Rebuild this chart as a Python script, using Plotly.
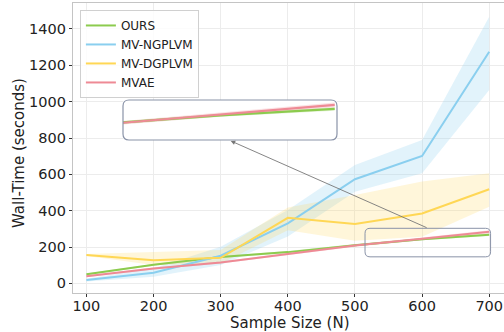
import plotly.graph_objects as go

# ---- data ----
sample_sizes = [100, 200, 300, 400, 500, 600, 700]

ours_mean = [50, 102, 145, 172, 210, 243, 268]
ours_lo = [45, 97, 140, 166, 204, 237, 261]
ours_hi = [55, 107, 150, 178, 216, 249, 275]

mvae_mean = [39, 82, 115, 160, 208, 245, 284]
mvae_lo = [33, 76, 109, 153, 201, 237, 275]
mvae_hi = [45, 88, 121, 167, 215, 253, 293]

ngplvm_mean = [18, 58, 152, 330, 573, 701, 1275]
ngplvm_lo = [10, 37, 101, 258, 504, 606, 1064]
ngplvm_hi = [26, 83, 202, 404, 651, 789, 1468]

dgplvm_mean = [156, 127, 141, 361, 327, 385, 518]
dgplvm_lo = [150, 101, 110, 293, 235, 257, 422]
dgplvm_hi = [162, 171, 183, 418, 486, 560, 606]

series_names = ["OURS", "MV-NGPLVM", "MV-DGPLVM", "MVAE"]
x_ticks = [100, 200, 300, 400, 500, 600, 700]
y_ticks = [0, 200, 400, 600, 800, 1000, 1200, 1400]
x_title = "Sample Size (N)"
y_title = "Wall-Time (seconds)"

# zoom window (data region magnified in the inset)
zoom_x = [515, 702]
zoom_y = [146, 303]

colors = {
    "OURS": "#8CCB4E",
    "MV-NGPLVM": "#8ACFEF",
    "MV-DGPLVM": "#FFD755",
    "MVAE": "#EE8A95",
}
fills = {
    "OURS": "rgba(140,203,78,0.22)",
    "MV-NGPLVM": "rgba(138,207,239,0.25)",
    "MV-DGPLVM": "rgba(255,215,85,0.22)",
    "MVAE": "rgba(238,138,149,0.25)",
}

data = {
    "OURS": (ours_mean, ours_lo, ours_hi),
    "MV-NGPLVM": (ngplvm_mean, ngplvm_lo, ngplvm_hi),
    "MV-DGPLVM": (dgplvm_mean, dgplvm_lo, dgplvm_hi),
    "MVAE": (mvae_mean, mvae_lo, mvae_hi),
}

fig = go.Figure()

for name in series_names:
    m, lo, hi = data[name]
    fig.add_trace(go.Scatter(x=sample_sizes, y=lo, mode="lines", line=dict(width=0),
                             showlegend=False, hoverinfo="skip"))
    fig.add_trace(go.Scatter(x=sample_sizes, y=hi, mode="lines", line=dict(width=0),
                             fill="tonexty", fillcolor=fills[name],
                             showlegend=False, hoverinfo="skip"))
for name in series_names:
    m, lo, hi = data[name]
    fig.add_trace(go.Scatter(x=sample_sizes, y=m, mode="lines", name=name,
                             line=dict(color=colors[name], width=2)))

for name in ["OURS", "MVAE"]:
    m, lo, hi = data[name]
    fig.add_trace(go.Scatter(x=sample_sizes, y=lo, mode="lines", line=dict(width=0),
                             showlegend=False, hoverinfo="skip", xaxis="x2", yaxis="y2"))
    fig.add_trace(go.Scatter(x=sample_sizes, y=hi, mode="lines", line=dict(width=0),
                             fill="tonexty", fillcolor=fills[name],
                             showlegend=False, hoverinfo="skip", xaxis="x2", yaxis="y2"))
for name in ["OURS", "MVAE"]:
    m, lo, hi = data[name]
    fig.add_trace(go.Scatter(x=sample_sizes, y=m, mode="lines", showlegend=False,
                             line=dict(color=colors[name], width=2.2),
                             xaxis="x2", yaxis="y2"))

W, H = 504, 332
ml, mr, mt, mb = 73, 0, 3, 39
pw, ph = W - ml - mr, H - mt - mb


def px_to_paper(px, py):
    return (px - ml) / pw, (H - mb - py) / ph


def rounded_rect(x0, y0, x1, y1, rx, ry):
    return (f"M {x0+rx},{y0} L {x1-rx},{y0} Q {x1},{y0} {x1},{y0+ry} "
            f"L {x1},{y1-ry} Q {x1},{y1} {x1-rx},{y1} L {x0+rx},{y1} "
            f"Q {x0},{y1} {x0},{y1-ry} L {x0},{y0+ry} Q {x0},{y0} {x0+rx},{y0} Z")


ix0, iy1 = px_to_paper(123, 100)
ix1, iy0 = px_to_paper(337, 140)

frame_col = "#8a93a8"

shapes = []
rx_d = 5 / (pw / (722 - 80))
ry_d = 5 / (ph / (1543 + 53))
shapes.append(dict(type="path", xref="x", yref="y",
                   path=rounded_rect(zoom_x[0], zoom_y[0], zoom_x[1], zoom_y[1], rx_d, ry_d),
                   line=dict(color=frame_col, width=1)))
shapes.append(dict(type="path", xref="paper", yref="paper",
                   path=rounded_rect(ix0, iy0, ix1, iy1, 6 / pw, 6 / ph),
                   line=dict(color=frame_col, width=1.2)))

fig.update_layout(
    width=W, height=H,
    margin=dict(l=ml, r=mr, t=mt, b=mb),
    paper_bgcolor="white", plot_bgcolor="white",
    font=dict(family="DejaVu Sans", color="#222222"),
    shapes=shapes,
    legend=dict(x=0.016, y=0.976, xanchor="left", yanchor="top",
                traceorder="normal",
                bgcolor="rgba(255,255,255,0.85)", bordercolor="#d0d0d0", borderwidth=1,
                font=dict(size=12), tracegroupgap=0, itemwidth=30),
    xaxis=dict(range=[80, 722], tickvals=x_ticks, ticks="outside", ticklen=3,
               tickcolor="#333", tickfont=dict(size=14.5), ticklabelstandoff=-4,
               showgrid=True, gridcolor="#ececec", gridwidth=1,
               showline=True, linecolor="#c4c4c4", linewidth=1.2, mirror=True,
               zeroline=False),
    yaxis=dict(range=[-53, 1543], tickvals=y_ticks, ticks="outside", ticklen=3,
               tickcolor="#333", tickfont=dict(size=14.5),
               showgrid=True, gridcolor="#ececec", gridwidth=1,
               showline=True, linecolor="#c4c4c4", linewidth=1.2,
               zeroline=False),
    xaxis2=dict(domain=[ix0, ix1], range=zoom_x, anchor="y2", showgrid=False,
                showticklabels=False, ticks="", showline=False, zeroline=False),
    yaxis2=dict(domain=[iy0, iy1], range=zoom_y, anchor="x2", showgrid=False,
                showticklabels=False, ticks="", showline=False, zeroline=False),
)

tx, ty = px_to_paper(290, 323)
fig.add_annotation(x=tx, y=ty, xref="paper", yref="paper", text=x_title,
                   showarrow=False, xanchor="center", yanchor="middle",
                   font=dict(size=15, color="#222222"))
tx, ty = px_to_paper(19, 153)
fig.add_annotation(x=tx, y=ty, xref="paper", yref="paper", text=y_title,
                   showarrow=False, xanchor="center", yanchor="middle", textangle=-90,
                   font=dict(size=15, color="#222222"))

fig.add_annotation(x=315, y=784, xref="x", yref="y",
                   ax=609, ay=zoom_y[1], axref="x", ayref="y",
                   showarrow=True, arrowhead=2, arrowsize=1, arrowwidth=0.9,
                   arrowcolor="#777777", text="")

fig.write_html("out.html")
